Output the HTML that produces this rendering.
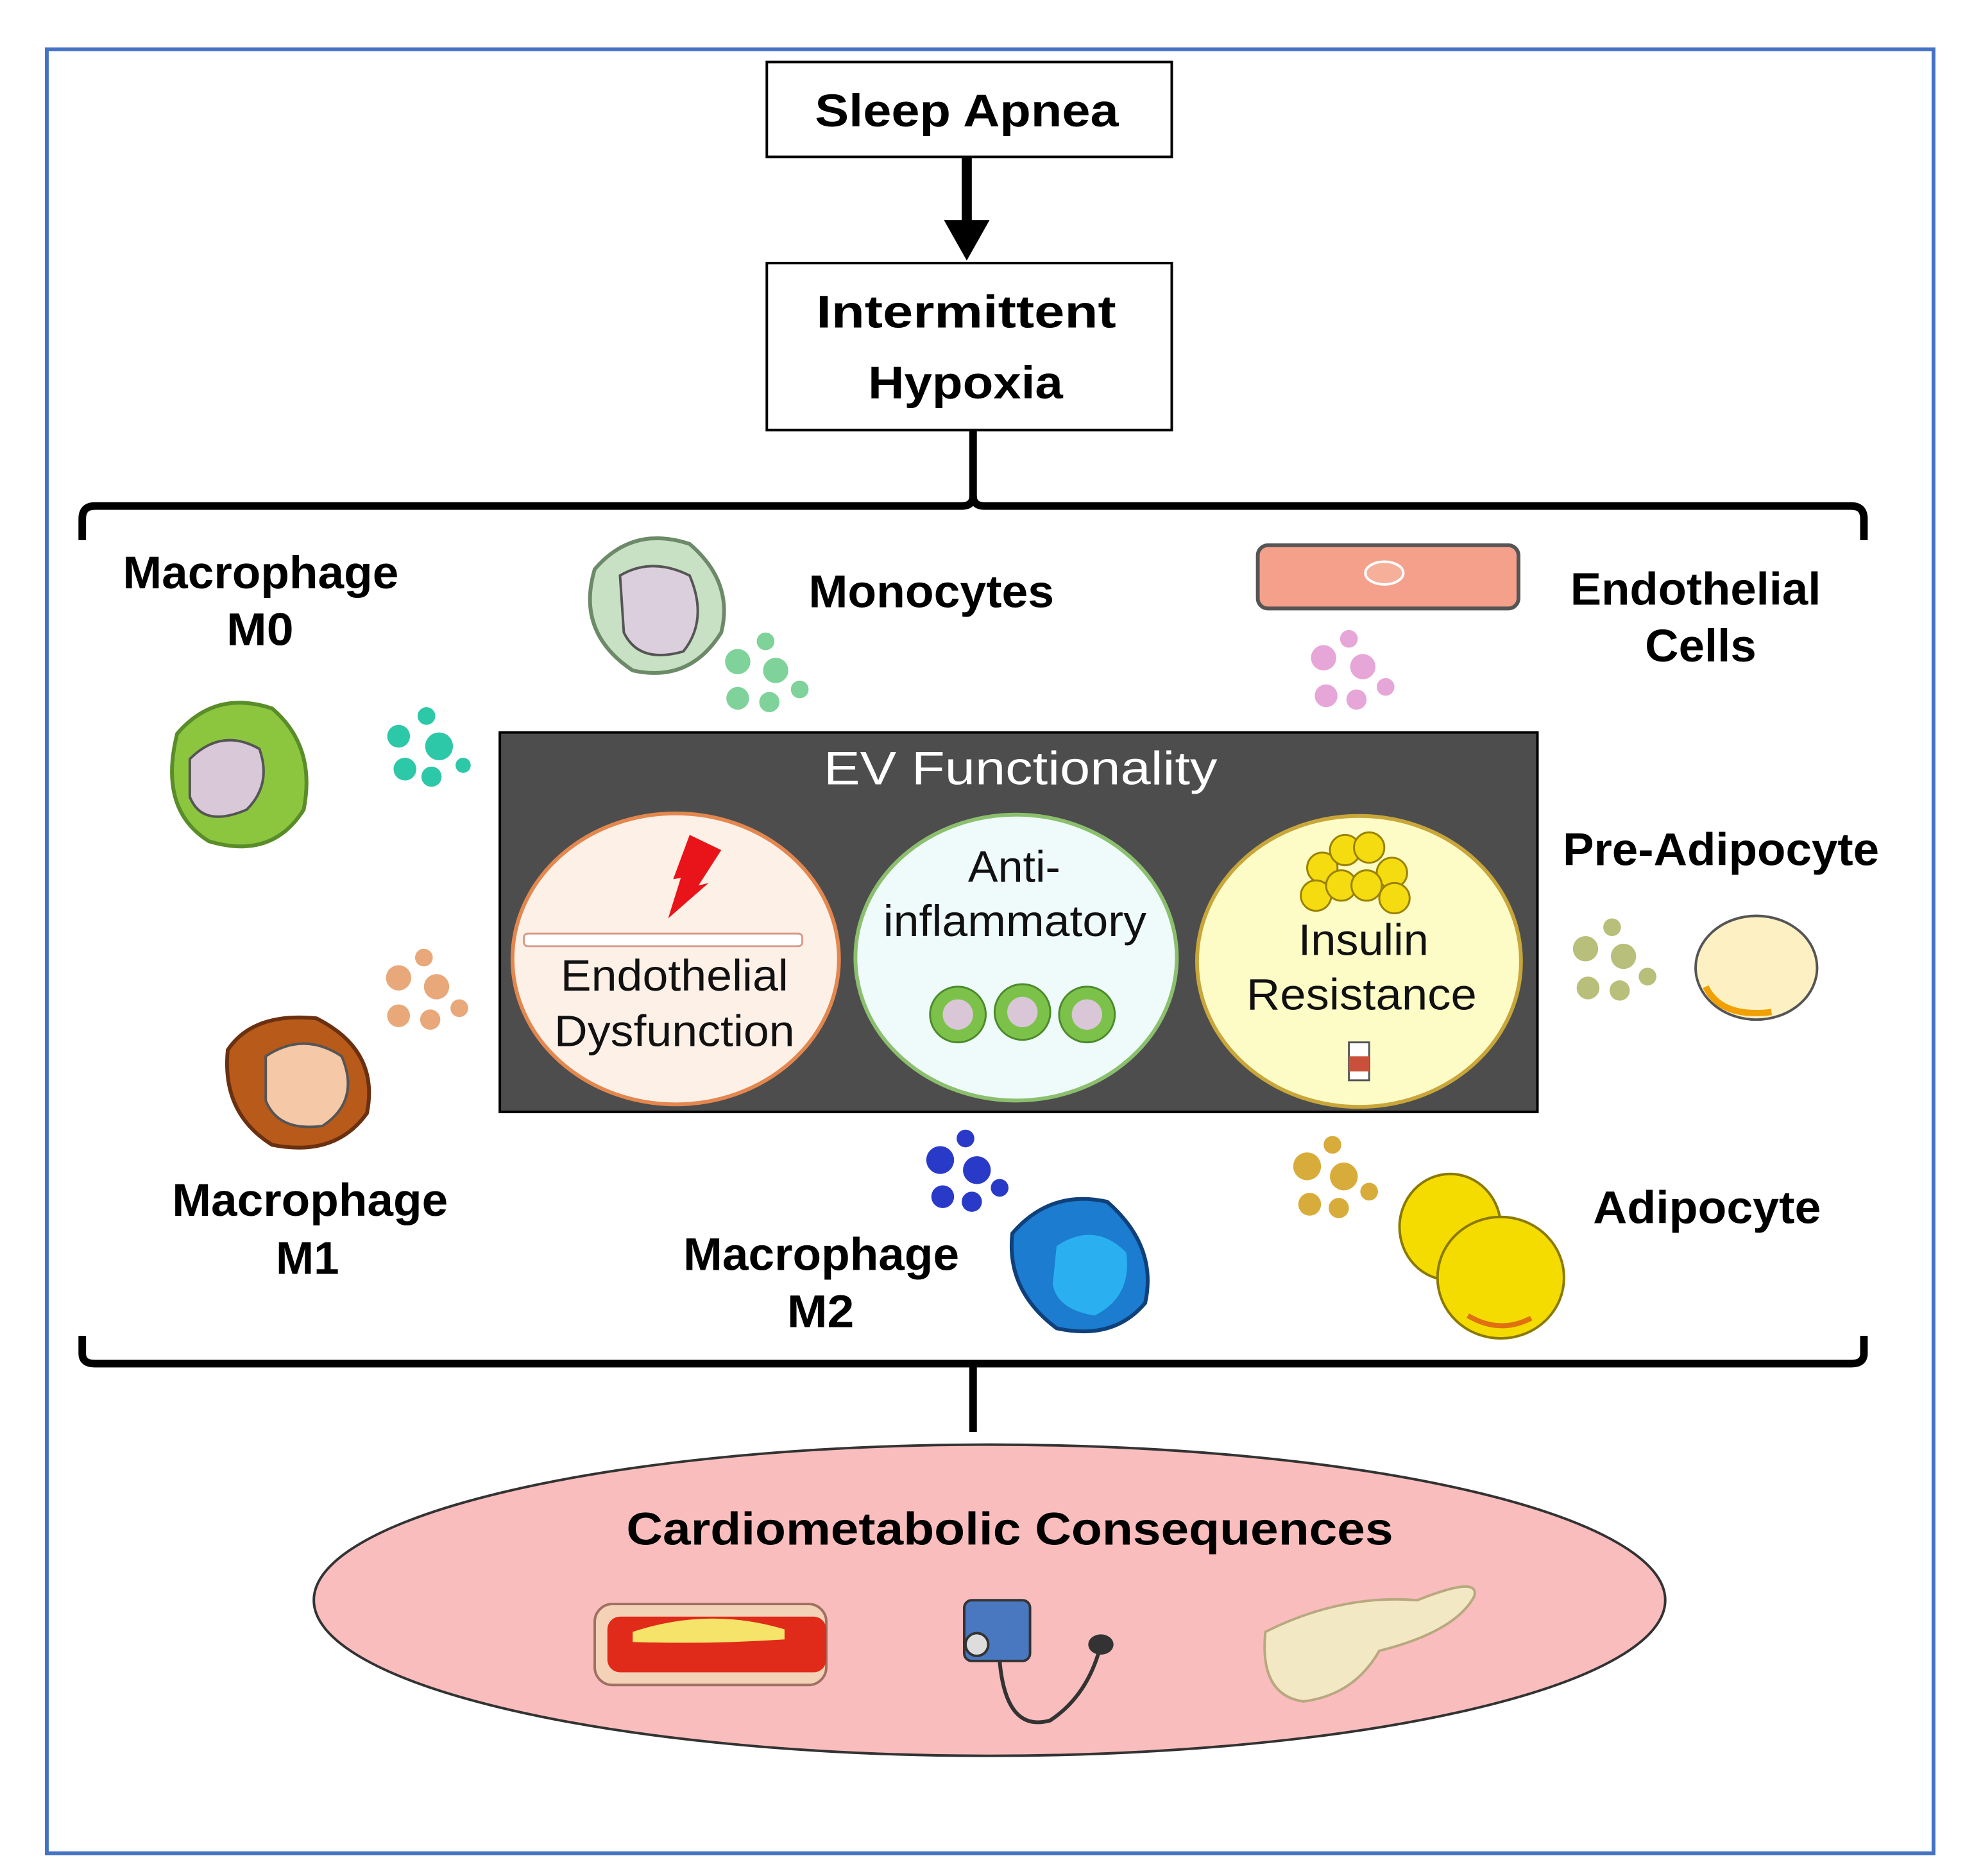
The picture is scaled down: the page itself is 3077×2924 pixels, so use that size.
<!DOCTYPE html>
<html><head><meta charset="utf-8"><style>
html,body{margin:0;padding:0;background:#fff;}
svg{display:block;}
text{font-family:"Liberation Sans",Arial,sans-serif;}
.b{font-weight:bold;font-size:36px;fill:#000;}
.n{font-size:35px;fill:#111;}
</style></head><body>
<svg width="3077" height="2924" viewBox="0 0 1560 1483" preserveAspectRatio="none" xmlns="http://www.w3.org/2000/svg">
<rect x="0" y="0" width="1560" height="1483" fill="#fff"/>
<rect x="37" y="39" width="1491" height="1426" fill="none" stroke="#4472c4" stroke-width="3"/>
<rect x="606" y="49" width="320" height="75" fill="#fff" stroke="#000" stroke-width="2"/>
<text x="644" y="100" class="b" textLength="240" lengthAdjust="spacingAndGlyphs">Sleep Apnea</text>
<line x1="764" y1="124" x2="764" y2="178" stroke="#000" stroke-width="8"/>
<polygon points="746,174 782,174 764,206" fill="#000"/>
<rect x="606" y="208" width="320" height="132" fill="#fff" stroke="#000" stroke-width="2"/>
<text x="645" y="259" class="b" textLength="237" lengthAdjust="spacingAndGlyphs">Intermittent</text>
<text x="686" y="315" class="b" textLength="154" lengthAdjust="spacingAndGlyphs">Hypoxia</text>
<path d="M769 340 V392 Q769 400 760 400 H75 Q65 400 65 410 V427" fill="none" stroke="#000" stroke-width="6"/>
<path d="M769 392 Q769 400 778 400 H1463 Q1473 400 1473 410 V427" fill="none" stroke="#000" stroke-width="6"/>
<path d="M65 1056 V1070 Q65 1078 75 1078 H1463 Q1473 1078 1473 1070 V1056" fill="none" stroke="#000" stroke-width="6"/>
<line x1="769" y1="1078" x2="769" y2="1132" stroke="#000" stroke-width="6"/>
<text x="97" y="465" class="b" textLength="218" lengthAdjust="spacingAndGlyphs">Macrophage</text>
<text x="179" y="510" class="b" textLength="53" lengthAdjust="spacingAndGlyphs">M0</text>
<text x="639" y="480" class="b" textLength="194" lengthAdjust="spacingAndGlyphs">Monocytes</text>
<text x="1241" y="478" class="b" textLength="198" lengthAdjust="spacingAndGlyphs">Endothelial</text>
<text x="1300" y="523" class="b" textLength="88" lengthAdjust="spacingAndGlyphs">Cells</text>
<text x="1235" y="684" class="b" textLength="250" lengthAdjust="spacingAndGlyphs">Pre-Adipocyte</text>
<text x="136" y="961" class="b" textLength="218" lengthAdjust="spacingAndGlyphs">Macrophage</text>
<text x="218" y="1007" class="b" textLength="50" lengthAdjust="spacingAndGlyphs">M1</text>
<text x="540" y="1004" class="b" textLength="218" lengthAdjust="spacingAndGlyphs">Macrophage</text>
<text x="622" y="1049" class="b" textLength="53" lengthAdjust="spacingAndGlyphs">M2</text>
<text x="1259" y="967" class="b" textLength="180" lengthAdjust="spacingAndGlyphs">Adipocyte</text>
<rect x="395" y="579" width="820" height="300" fill="#4d4d4d" stroke="#000" stroke-width="2"/>
<text x="651" y="620" font-size="37" fill="#fff" textLength="311" lengthAdjust="spacingAndGlyphs">EV Functionality</text>
<ellipse cx="534" cy="758" rx="129" ry="115" fill="#fdf0e6" stroke="#e3874f" stroke-width="3"/>
<ellipse cx="803" cy="757" rx="127" ry="113" fill="#eefbfa" stroke="#8bbf6e" stroke-width="3"/>
<ellipse cx="1074" cy="760" rx="128" ry="115" fill="#fdfbc6" stroke="#c8a63a" stroke-width="3"/>
<polygon points="545,660 570,672 552,700 560,698 528,726 538,694 532,695" fill="#e8141a"/>
<rect x="414" y="738" width="220" height="10" fill="#fff" stroke="#d89c8c" stroke-width="1.5" rx="3"/>
<text x="443" y="783" class="n" textLength="180" lengthAdjust="spacingAndGlyphs">Endothelial</text>
<text x="438" y="827" class="n" textLength="190" lengthAdjust="spacingAndGlyphs">Dysfunction</text>
<text x="765" y="697" class="n" textLength="73" lengthAdjust="spacingAndGlyphs">Anti-</text>
<text x="698" y="740" class="n" textLength="208" lengthAdjust="spacingAndGlyphs">inflammatory</text>
<g fill="#7cc24a" stroke="#4c8a2c" stroke-width="1.5">
<circle cx="757" cy="802" r="22"/><circle cx="808" cy="800" r="22"/><circle cx="859" cy="802" r="22"/></g>
<g fill="#d9c6d6"><circle cx="757" cy="802" r="12"/><circle cx="808" cy="800" r="12"/><circle cx="859" cy="802" r="12"/></g>
<g fill="#f5dc10" stroke="#9a8200" stroke-width="1.5">
<circle cx="1045" cy="686" r="12"/><circle cx="1063" cy="672" r="12"/><circle cx="1082" cy="670" r="12"/><circle cx="1100" cy="690" r="12"/>
<circle cx="1040" cy="708" r="12"/><circle cx="1060" cy="700" r="12"/><circle cx="1080" cy="700" r="12"/><circle cx="1102" cy="710" r="12"/></g>
<text x="1026" y="755" class="n" textLength="103" lengthAdjust="spacingAndGlyphs">Insulin</text>
<text x="985" y="798" class="n" textLength="182" lengthAdjust="spacingAndGlyphs">Resistance</text>
<rect x="1066" y="824" width="16" height="30" fill="#fff" stroke="#555" stroke-width="1.5"/>
<rect x="1066" y="835" width="16" height="12" fill="#c9503a"/>
<path d="M140 580 Q170 545 215 560 Q250 590 240 640 Q215 680 165 665 Q125 640 140 580Z" fill="#8cc63f" stroke="#5a8c2a" stroke-width="3"/>
<path d="M150 600 Q175 575 205 592 Q215 620 195 640 Q160 655 150 630Z" fill="#d9c8d8" stroke="#555" stroke-width="2"/>
<g fill="#2dc8a8"><circle cx="337" cy="566" r="7"/><circle cx="315" cy="582" r="9"/><circle cx="347" cy="590" r="11"/><circle cx="320" cy="608" r="9"/><circle cx="341" cy="614" r="8"/><circle cx="366" cy="605" r="6"/></g>
<path d="M470 450 Q500 415 545 430 Q580 460 570 500 Q545 540 500 530 Q455 500 470 450Z" fill="#c8e0c4" stroke="#6c8a68" stroke-width="3"/>
<path d="M490 455 Q515 440 545 455 Q560 490 540 515 Q505 525 493 500Z" fill="#dccfdd" stroke="#555" stroke-width="2"/>
<g fill="#7ed29a"><circle cx="605" cy="507" r="7"/><circle cx="583" cy="523" r="10"/><circle cx="613" cy="530" r="10"/><circle cx="583" cy="552" r="9"/><circle cx="608" cy="555" r="8"/><circle cx="632" cy="545" r="7"/></g>
<rect x="994" y="431" width="206" height="50" rx="8" fill="#f4a08a" stroke="#555" stroke-width="3"/>
<ellipse cx="1094" cy="453" rx="15" ry="9" fill="#f6b09a" stroke="#fff" stroke-width="2"/>
<g fill="#e6a6d8"><circle cx="1066" cy="505" r="7"/><circle cx="1046" cy="520" r="10"/><circle cx="1077" cy="527" r="10"/><circle cx="1048" cy="550" r="9"/><circle cx="1072" cy="553" r="8"/><circle cx="1095" cy="543" r="7"/></g>
<g fill="#b8bf7a"><circle cx="1274" cy="733" r="7"/><circle cx="1253" cy="750" r="10"/><circle cx="1283" cy="756" r="10"/><circle cx="1255" cy="781" r="9"/><circle cx="1280" cy="783" r="8"/><circle cx="1302" cy="772" r="7"/></g>
<ellipse cx="1388" cy="765" rx="48" ry="41" fill="#fdf1c4" stroke="#555" stroke-width="2"/>
<path d="M1348 780 Q1360 805 1400 800" fill="none" stroke="#f0a000" stroke-width="5"/>
<g fill="#e8a87a"><circle cx="335" cy="757" r="7"/><circle cx="315" cy="773" r="10"/><circle cx="345" cy="780" r="10"/><circle cx="315" cy="803" r="9"/><circle cx="340" cy="806" r="8"/><circle cx="363" cy="797" r="7"/></g>
<path d="M180 830 Q200 800 250 805 Q300 830 290 880 Q265 915 215 905 Q175 880 180 830Z" fill="#b85a1a" stroke="#6a3010" stroke-width="3"/>
<path d="M210 835 Q240 815 270 835 Q285 870 255 890 Q220 895 210 870Z" fill="#f5c8a8" stroke="#555" stroke-width="2"/>
<g fill="#2a3ac8"><circle cx="763" cy="900" r="7"/><circle cx="743" cy="917" r="11"/><circle cx="772" cy="925" r="11"/><circle cx="745" cy="946" r="9"/><circle cx="768" cy="950" r="8"/><circle cx="790" cy="939" r="7"/></g>
<path d="M800 975 Q830 940 875 950 Q915 985 905 1030 Q880 1060 835 1050 Q795 1020 800 975Z" fill="#1b7cd0" stroke="#10407a" stroke-width="3"/>
<path d="M835 985 Q865 965 890 990 Q895 1025 865 1040 Q835 1035 832 1015Z" fill="#2ab0f0"/>
<g fill="#d8ac3a"><circle cx="1053" cy="905" r="7"/><circle cx="1033" cy="922" r="11"/><circle cx="1062" cy="930" r="11"/><circle cx="1035" cy="952" r="9"/><circle cx="1058" cy="955" r="8"/><circle cx="1082" cy="942" r="7"/></g>
<ellipse cx="1146" cy="970" rx="40" ry="42" fill="#f5dc00" stroke="#8a7a00" stroke-width="2"/>
<ellipse cx="1186" cy="1010" rx="50" ry="48" fill="#f5dc00" stroke="#8a7a00" stroke-width="2"/>
<path d="M1160 1040 Q1185 1055 1210 1042" fill="none" stroke="#e07010" stroke-width="4"/>
<ellipse cx="782" cy="1265" rx="534" ry="123" fill="#f9bdbd" stroke="#333" stroke-width="2"/>
<text x="495" y="1221" class="b" font-size="37" textLength="606" lengthAdjust="spacingAndGlyphs">Cardiometabolic Consequences</text>
<rect x="470" y="1268" width="183" height="64" rx="14" fill="#f3d2b8" stroke="#a07060" stroke-width="2"/>
<rect x="480" y="1278" width="173" height="44" rx="10" fill="#e02a1a"/>
<path d="M500 1290 Q560 1270 620 1288 L620 1296 Q560 1300 500 1298Z" fill="#f6e36a"/>
<rect x="762" y="1265" width="52" height="48" rx="6" fill="#4a78c0" stroke="#333" stroke-width="2"/>
<circle cx="772" cy="1300" r="9" fill="#ddd" stroke="#333" stroke-width="2"/>
<path d="M790 1313 Q795 1370 830 1360 Q860 1340 870 1300" fill="none" stroke="#333" stroke-width="3"/>
<ellipse cx="870" cy="1300" rx="10" ry="8" fill="#333"/>
<path d="M1000 1290 Q1060 1260 1120 1265 Q1170 1245 1165 1262 Q1150 1290 1090 1305 Q1070 1340 1030 1345 Q995 1340 1000 1290Z" fill="#f3e8c4" stroke="#b8a880" stroke-width="2"/>
</svg>
</body></html>
